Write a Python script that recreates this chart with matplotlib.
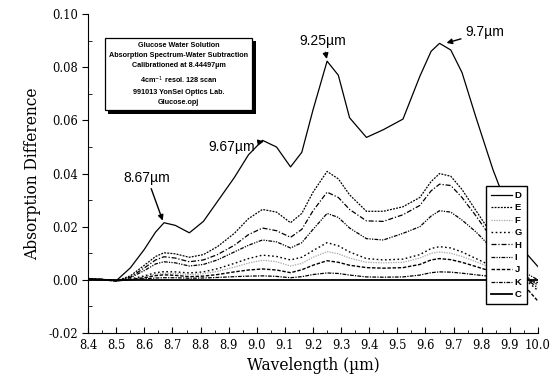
import numpy as np
import matplotlib
matplotlib.use("Agg")
import matplotlib.pyplot as plt
from matplotlib import patheffects
from matplotlib.ticker import MultipleLocator, FormatStrFormatter

# wavelength knots (um)
wl = [8.40, 8.45, 8.50, 8.55, 8.60, 8.64, 8.67, 8.71, 8.76, 8.81, 8.86, 8.92,
      8.97, 9.02, 9.07, 9.12, 9.16, 9.20, 9.25, 9.29, 9.33, 9.39, 9.45, 9.52,
      9.58, 9.62, 9.65, 9.69, 9.73, 9.78, 9.84, 9.90, 9.95, 10.00]

D = [0.0005, 0.0002, -0.0003, 0.0045, 0.0115, 0.018, 0.0215, 0.0205, 0.0177, 0.022, 0.0295, 0.0385,
     0.047, 0.0525, 0.050, 0.0425, 0.048, 0.064, 0.0823, 0.077, 0.061, 0.0536, 0.0565, 0.0605,
     0.0766, 0.086, 0.089, 0.0865, 0.078, 0.061, 0.0415, 0.025, 0.011, 0.005]
E = [0.0005, 0.0002, -0.0004, 0.0015, 0.0055, 0.0088, 0.0102, 0.0098, 0.0085, 0.0095, 0.0125, 0.0175,
     0.023, 0.0265, 0.0255, 0.0215, 0.025, 0.033, 0.0408, 0.038, 0.032, 0.0258, 0.0258, 0.0275,
     0.031, 0.037, 0.040, 0.039, 0.034, 0.026, 0.0165, 0.008, 0.002, -0.002]
H = [0.0004, 0.0002, -0.0004, 0.0010, 0.0045, 0.0075, 0.0087, 0.0082, 0.0068, 0.0075, 0.0095, 0.013,
     0.017, 0.0195, 0.0185, 0.016, 0.019, 0.026, 0.033, 0.031, 0.0265, 0.0222, 0.022, 0.0245,
     0.028, 0.0335, 0.036, 0.0355, 0.031, 0.024, 0.015, 0.007, 0.001, -0.003]
I = [0.0003, 0.0001, -0.0004, 0.0008, 0.0035, 0.0060, 0.0068, 0.0064, 0.0052, 0.0058, 0.0075, 0.0105,
     0.013, 0.015, 0.0143, 0.012, 0.014, 0.019, 0.025, 0.0235, 0.0195, 0.0155, 0.015, 0.0175,
     0.020, 0.024, 0.026, 0.0255, 0.0225, 0.018, 0.0115, 0.007, 0.003, 0.000]
G = [0.0002, 0.0, -0.0004, 0.0003, 0.0015, 0.0027, 0.0031, 0.0030, 0.0026, 0.0030, 0.0042, 0.0062,
     0.0080, 0.0093, 0.0088, 0.0075, 0.0085, 0.0110, 0.0140, 0.0128, 0.0105, 0.0080, 0.0075, 0.0078,
     0.0095, 0.0118, 0.0125, 0.0120, 0.0105, 0.0080, 0.0050, 0.0025, 0.0005, -0.004]
F = [0.0002, 0.0, -0.0004, 0.0002, 0.0012, 0.0022, 0.0025, 0.0024, 0.0020, 0.0023, 0.0032, 0.0048,
     0.0063, 0.0074, 0.0068, 0.0052, 0.0062, 0.0085, 0.0106, 0.0098, 0.0082, 0.0066, 0.0064, 0.0066,
     0.0082, 0.0100, 0.0105, 0.0100, 0.0088, 0.0068, 0.0042, 0.0020, 0.0, -0.002]
J = [0.0001, 0.0, -0.0004, 0.0001, 0.0008, 0.0016, 0.0019, 0.0017, 0.0012, 0.0014, 0.0020, 0.0030,
     0.0037, 0.0041, 0.0037, 0.0027, 0.0038, 0.0055, 0.0072, 0.0066, 0.0055, 0.0046, 0.0044, 0.0046,
     0.0058, 0.0075, 0.0080, 0.0076, 0.0066, 0.0050, 0.0030, 0.0012, -0.002, -0.008]
K = [0.0001, 0.0, -0.0003, 0.0, 0.0004, 0.0007, 0.0008, 0.0008, 0.0006, 0.0007, 0.0009, 0.0012,
     0.0014, 0.0015, 0.0013, 0.0008, 0.0012, 0.0020, 0.0026, 0.0024, 0.0018, 0.0011, 0.0010, 0.0011,
     0.0018, 0.0027, 0.0030, 0.0029, 0.0025, 0.0019, 0.0012, 0.0005, 0.0, -0.001]
C = [0.0] * len(wl)

series = {"D": D, "E": E, "F": F, "G": G, "H": H, "I": I, "J": J, "K": K, "C": C}
styles = {
    "D": dict(color="k", lw=0.9, ls="-"),
    "E": dict(color="k", lw=0.9, ls=(0, (1.5, 1))),
    "F": dict(color="0.65", lw=0.9, ls=(0, (1, 1))),
    "G": dict(color="k", lw=1.0, ls=(0, (1.2, 1.8))),
    "H": dict(color="k", lw=0.9, ls=(0, (4, 1.5, 1, 1.5))),
    "I": dict(color="k", lw=0.9, ls=(0, (3, 1, 1, 1, 1, 1))),
    "J": dict(color="k", lw=1.0, ls=(0, (2.5, 1.2))),
    "K": dict(color="k", lw=0.9, ls=(0, (3, 1, 1, 1))),
    "C": dict(color="k", lw=1.3, ls="-"),
}

fig = plt.figure(figsize=(5.58, 3.92), dpi=100)
ax = fig.add_axes([0.158, 0.1505, 0.806, 0.8135])

for name, vals in series.items():
    ax.plot(wl, vals, label=name, **styles[name])

ax.set_xlim(8.4, 10.0)
ax.set_ylim(-0.02, 0.10)
ax.spines["top"].set_visible(False)
ax.spines["right"].set_visible(False)
ax.xaxis.set_major_locator(MultipleLocator(0.1))
ax.xaxis.set_minor_locator(MultipleLocator(0.05))
ax.yaxis.set_major_locator(MultipleLocator(0.02))
ax.yaxis.set_minor_locator(MultipleLocator(0.01))
ax.xaxis.set_major_formatter(FormatStrFormatter("%.1f"))
ax.yaxis.set_major_formatter(FormatStrFormatter("%.2f"))
ax.tick_params(axis="x", which="major", direction="in", length=4, pad=4)
ax.tick_params(axis="x", which="minor", direction="in", length=2)
ax.tick_params(axis="y", which="major", direction="out", length=4)
ax.tick_params(axis="y", which="minor", direction="in", length=3)
ax.tick_params(axis="both", which="major", labelsize=8.3, labelfontfamily="DejaVu Serif")

ax.set_xlabel("Wavelength (µm)", family="DejaVu Serif", fontsize=11.2, labelpad=4)
ax.set_ylabel("Absorption Difference", family="DejaVu Serif", fontsize=11.2, labelpad=5)

ann = dict(family="Liberation Sans", fontsize=10, ha="center", va="center")
arr = dict(arrowstyle="-|>", color="k", lw=1.0, mutation_scale=8, shrinkA=1, shrinkB=1)
ax.annotate("8.67µm", xy=(8.667, 0.0218), xytext=(8.61, 0.0385), arrowprops=arr, **ann)
ax.annotate("9.67µm", xy=(9.03, 0.0522), xytext=(8.912, 0.0500), arrowprops=arr, **ann)
ax.annotate("9.25µm", xy=(9.25, 0.0826), xytext=(9.236, 0.0898), arrowprops=arr, **ann)
ax.annotate("9.7µm", xy=(9.67, 0.0890), xytext=(9.81, 0.0932), arrowprops=arr, **ann)

info = ("Glucose Water Solution\nAbsorption Spectrum-Water Subtraction\n"
        "Calibrationed at 8.44497µm\n4cm$^{-1}$ resol. 128 scan\n"
        "991013 YonSei Optics Lab.\nGlucose.opj")
t = ax.text(0.201, 0.812, info, transform=ax.transAxes, ha="center", va="center",
            family="Liberation Sans", fontsize=5.2, fontweight="bold", linespacing=1.6,
            bbox=dict(boxstyle="square,pad=0.6", fc="white", ec="k", lw=0.9))
t.get_bbox_patch().set_path_effects([
    patheffects.SimplePatchShadow(offset=(2.5, -2.5), shadow_rgbFace="k", alpha=1.0),
    patheffects.Normal()])

leg = ax.legend(loc="upper left", bbox_to_anchor=(0.885, 0.46), fancybox=False,
                framealpha=1, edgecolor="k", handlelength=2.2, handletextpad=0.3,
                labelspacing=0.36, borderpad=0.5, borderaxespad=0,
                prop=dict(family="Liberation Sans", size=6.8, weight="bold"))
leg.get_frame().set_linewidth(1.0)

fig.savefig("out.png", dpi=100)
